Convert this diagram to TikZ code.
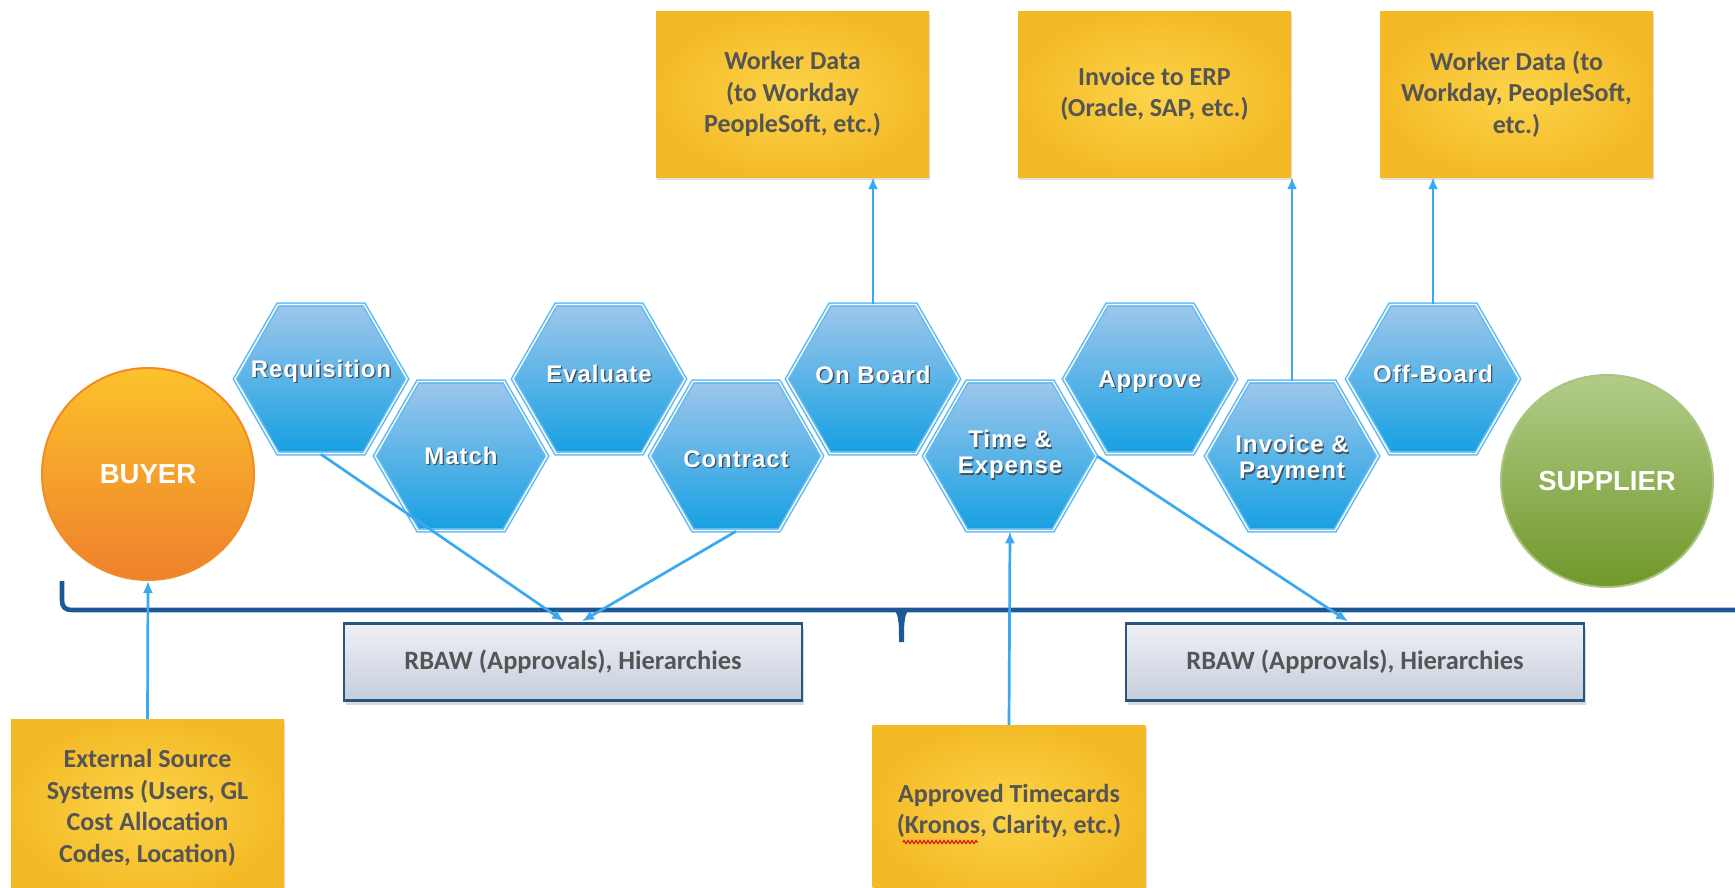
\documentclass[tikz,border=0pt]{standalone}
\usepackage{fontspec}
\setmainfont{Carlito}
\newfontfamily\arialbold{Liberation Sans}[BoldFont={* Bold}]
\newfontfamily\hexfont{Liberation Sans}[BoldFont={* Bold}, LetterSpace=4]
\usetikzlibrary{shapes.geometric,shadows,calc,arrows.meta,decorations.pathmorphing}

% palette
\definecolor{hexedge}{RGB}{100,188,240}
\definecolor{hextop}{RGB}{158,199,236}
\definecolor{hexmid}{RGB}{72,174,230}
\definecolor{hexbot}{RGB}{22,160,226}
\definecolor{hexshade}{RGB}{70,80,95}
\definecolor{linkblue}{RGB}{58,170,240}
\definecolor{bracecol}{RGB}{28,88,150}
\definecolor{noteout}{RGB}{244,186,38}
\definecolor{notein}{RGB}{252,212,74}
\definecolor{notetext}{RGB}{85,85,85}
\definecolor{rbtop}{RGB}{238,240,245}
\definecolor{rbbot}{RGB}{198,206,220}
\definecolor{rbedge}{RGB}{40,85,130}
\definecolor{buyertop}{RGB}{252,194,44}
\definecolor{buyermid}{RGB}{247,170,72}
\definecolor{buyerbot}{RGB}{238,128,44}
\definecolor{buyeredge}{RGB}{242,140,36}
\definecolor{suptop}{RGB}{178,204,136}
\definecolor{supmid}{RGB}{132,172,72}
\definecolor{supbot}{RGB}{112,152,42}
\definecolor{supedge}{RGB}{170,196,130}

% white label with a soft dark shadow behind it
\newcommand{\shadowed}[1]{\leavevmode\rlap{\kern1.3pt\raisebox{-1.6pt}{\color{hexshade}#1}}#1}
% zero-size label so the hexagon keeps its own size; optional vertical offset
\newcommand{\hexlabel}[2][-5pt]{\makebox[0pt]{\raisebox{#1}[0pt][0pt]{\shadowed{#2}}}}

\tikzset{
  hexa/.style={regular polygon, regular polygon sides=6, minimum size=172pt,
    inner sep=0pt, draw=hexedge, double=white, double distance=1.3pt, line width=1.6pt,
    top color=hextop, middle color=hexmid, bottom color=hexbot,
    text=white, font=\hexfont\bfseries\fontsize{24}{26}\selectfont, align=center},
  note/.style={rectangle, minimum width=273pt, inner sep=0pt,
    inner color=notein, outer color=noteout, text=notetext, align=center,
    font=\bfseries\fontsize{26}{31.5}\selectfont,
    drop shadow={opacity=0.25, shadow xshift=1pt, shadow yshift=-3pt}},
  rbaw/.style={rectangle, minimum width=458pt, minimum height=77pt, inner sep=0pt,
    top color=rbtop, bottom color=rbbot, draw=rbedge, line width=2.4pt,
    text=notetext, font=\bfseries\fontsize{26.5}{30}\selectfont,
    drop shadow={opacity=0.3, shadow xshift=2pt, shadow yshift=-4pt}},
  party/.style={circle, minimum size=212pt, inner sep=0pt, line width=2pt,
    text=white, font=\arialbold\bfseries\fontsize{27.5}{30}\selectfont},
  link/.style={draw=linkblue, line width=2.7pt, -{Latex[length=12pt,width=10pt]}},
}

\begin{document}
\begin{tikzpicture}[x=1pt, y=-1pt]
\useasboundingbox (0,0) rectangle (1735,887);

% brace under the process chain
\draw[bracecol, line width=4.6pt, line join=round]
  (62,581) -- (62,600) .. controls (62,607) and (65,610) .. (72,610) -- (1740,610);
\fill[bracecol] (891,608) .. controls (899,611) and (899,622) .. (899,642)
  -- (904,642) .. controls (904,622) and (904,611) .. (912,608) -- cycle;

% the two parties
\node[party, top color=buyertop, middle color=buyermid, bottom color=buyerbot,
  draw=buyeredge] (buyer) at (148,474) {BUYER};
\node[party, top color=suptop, middle color=supmid, bottom color=supbot,
  draw=supedge] (supplier) at (1607,481) {SUPPLIER};

% process hexagons: upper row
\node[hexa] (req) at (321,379) {\hexlabel[2pt]{Requisition}};
\node[hexa] (eva) at (599,379) {\hexlabel[-3pt]{Evaluate}};
\node[hexa] (onb) at (873,379) {\hexlabel[-4pt]{On Board}};
\node[hexa] (apr) at (1150,379) {\hexlabel[-8pt]{Approve}};
\node[hexa] (off) at (1433,379) {\hexlabel[-3pt]{Off-Board}};
% process hexagons: lower row
\node[hexa] (mat) at (461,456) {\hexlabel[-8pt]{Match}};
\node[hexa] (con) at (736,456) {\hexlabel[-11pt]{Contract}};
\node[hexa] (tne) at (1010,456) {\hexlabel[-6pt]{\begin{tabular}{@{}c@{}}Time \&\\Expense\end{tabular}}};
\node[hexa] (inv) at (1292,456) {\hexlabel[-11pt]{\begin{tabular}{@{}c@{}}Invoice \&\\Payment\end{tabular}}};

% approval boxes
\node[rbaw] (rb1) at (573,662) {RBAW (Approvals), Hierarchies};
\node[rbaw] (rb2) at (1355,662) {RBAW (Approvals), Hierarchies};

% external systems
\node[note, minimum height=166pt] (wd1) at (792.5,94) {Worker Data\\(to Workday\\PeopleSoft, etc.)};
\node[note, minimum height=166pt] (erp) at (1154.5,94) {Invoice to ERP\\(Oracle, SAP, etc.)};
\node[note, minimum height=166pt] (wd2) at (1516.5,94) {Worker Data (to\\Workday, PeopleSoft,\\etc.)};
\node[note, minimum height=178pt] (ext) at (147.5,808) {External Source\\Systems (Users, GL\\Cost Allocation\\Codes, Location)};
\node[note, minimum height=172pt] (tc) at (1009,811) {Approved Timecards\\(Kronos, Clarity, etc.)};
\coordinate (spellA) at ($(tc.center)+(-106,31)$);
\coordinate (spellB) at ($(tc.center)+(-31,31)$);
\draw[red!85!black, line width=1pt, decorate,
  decoration={zigzag, amplitude=1.6pt, segment length=4pt}] (spellA) -- (spellB);

% connectors
\draw[link] (req.south) -- ($(rb1.north)+(-9,-1)$);
\draw[link] (con.south) -- ($(rb1.north)+(9,-1)$);
\draw[link] (tne.east) -- ($(rb2.north)+(-7,-1)$);
\draw[link] (tc.north) -- (tne.south);
\draw[link] (ext.north) -- (buyer.south);
\draw[link] (onb.north) -- (onb.north |- wd1.south);
\draw[link] (inv.north) -- (inv.north |- erp.south);
\draw[link] (off.north) -- (off.north |- wd2.south);
\end{tikzpicture}
\end{document}
